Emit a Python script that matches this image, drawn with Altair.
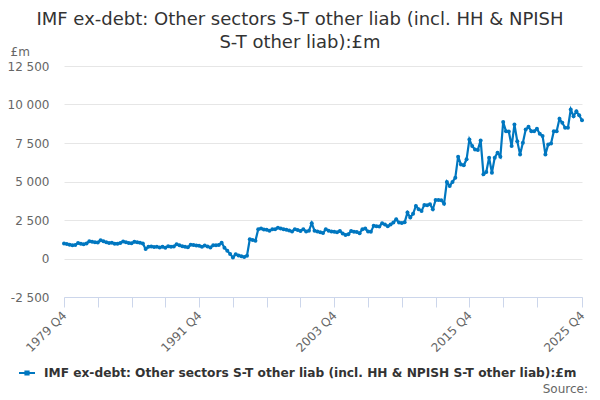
import pandas as pd
import altair as alt

series_name = "IMF ex-debt: Other sectors S-T other liab (incl. HH & NPISH S-T other liab):£m"
title_lines = ["IMF ex-debt: Other sectors S-T other liab (incl. HH & NPISH",
               "S-T other liab):£m"]

# quarterly values, 1979 Q4 .. 2025 Q4 (£m)
values = [
    970, 940, 900, 860, 880, 1000, 950, 920, 980, 1120,
    1080, 1060, 1040, 1180, 1120, 1060, 1000, 1030, 960, 950,
    1000, 1110, 1050, 1000, 990, 1080, 1050, 1020, 980, 620,
    760, 780, 740, 760, 720, 770, 700, 800, 760, 780,
    920, 860, 800, 760, 730, 900, 870, 850, 820, 760,
    840, 780, 720, 860, 860, 880, 1030, 700, 500, 300,
    60, 280, 200, 150, 100, 180, 1250, 1200, 1150, 1900,
    1950, 1880, 1860, 1800, 1900, 1900, 2000, 1940, 1900, 1860,
    1820, 1750, 1900, 1850, 1790, 1900, 1760, 1800, 2290, 1800,
    1750, 1700, 1650, 1900, 1800, 1760, 1730, 1700, 1790, 1620,
    1530, 1580, 1790, 1740, 1720, 1640, 1900, 1940, 1760, 1730,
    2120, 2100, 2070, 2290, 2200, 2100, 2200, 2330, 2550, 2330,
    2300, 2350, 2980, 2660, 2900, 3410, 3200, 3090, 3480, 3450,
    3520, 3200, 3800, 3800, 3780, 3560, 4970, 4710, 4970, 5250,
    6610, 6110, 6050, 6440, 7730, 7300, 7080, 7050, 7670, 5470,
    5620, 6550, 5570, 6550, 6870, 6610, 8860, 8270, 8250, 7300,
    8700, 7620, 6760, 7520, 8380, 8550, 8270, 8270, 8420, 8100,
    7950, 6760, 7410, 7470, 8270, 8270, 9070, 8810, 8490, 8490,
    9670, 9240, 9560, 9300, 8980,
]

quarters = []
for i in range(len(values)):
    n = i + 3
    quarters.append(f"{1979 + n // 4} Q{n % 4 + 1}")

tick_quarters = quarters[0:169:12] + [quarters[-1]]
label_quarters = ["1979 Q4", "1991 Q4", "2003 Q4", "2015 Q4", "2025 Q4"]
y_ticks = [-2500, 0, 2500, 5000, 7500, 10000, 12500]

df = pd.DataFrame({"quarter": quarters, "value": values, "series": series_name})

blue = "#0077c0"
font = "DejaVu Sans"

label_js = "[" + ",".join(f"'{q}'" for q in label_quarters) + "]"

x = alt.X("quarter:O", sort=quarters, title=None,
          scale=alt.Scale(type="point", padding=0),
          axis=alt.Axis(values=tick_quarters,
                        labelExpr=f"indexof({label_js}, datum.value) >= 0 ? datum.value : ''",
                        labelAngle=-45, labelAlign="right", labelBaseline="middle",
                        labelFont=font, labelFontSize=12, labelColor="#666666",
                        labelPadding=6, tickSize=10, tickColor="#ccd6eb",
                        domainColor="#ccd6eb", grid=False))
y = alt.Y("value:Q", title="£m",
          scale=alt.Scale(domain=[-2500, 12500], nice=False, zero=False),
          axis=alt.Axis(values=y_ticks,
                        labelExpr="replace(replace(format(datum.value, ','), regexp(',', 'g'), ' '), '\u2212', '-')",
                        labelFont=font, labelFontSize=12, labelColor="#666666",
                        labelPadding=15, ticks=False, domain=False,
                        gridColor="#e6e6e6",
                        titleAngle=0, titleAlign="left", titleBaseline="bottom",
                        titleX=-54, titleY=-8, titleFont=font, titleFontSize=12,
                        titleFontWeight="normal", titleColor="#666666"))

line = alt.Chart(df).mark_line(strokeWidth=2.2).encode(
    x=x, y=y,
    color=alt.Color("series:N", scale=alt.Scale(domain=[series_name], range=[blue]),
                    legend=alt.Legend(title=None, orient="none", legendX=-46, legendY=298,
                                      symbolType="M-1,0L1,0M-0.2,-0.2L0.2,-0.2L0.2,0.2L-0.2,0.2Z",
                                      symbolSize=256, symbolStrokeWidth=2,
                                      symbolFillColor=blue, symbolStrokeColor=blue,
                                      labelOffset=8,
                                      labelFont=font, labelFontSize=12.2, labelFontWeight="bold",
                                      labelColor="#333333", labelLimit=0)),
)
points = alt.Chart(df).mark_circle(size=16, color=blue, opacity=1).encode(x=x, y=y)

source = alt.Chart(pd.DataFrame({"t": ["Source:"]})).mark_text(
    align="right", baseline="middle", font=font, fontSize=12, color="#666666"
).encode(x=alt.value(524), y=alt.value(323), text="t:N")

chart = (line + points + source).properties(
    width=518, height=231,
    autosize=alt.AutoSizeParams(type="none"),
    padding={"left": 56, "top": 58, "right": 10, "bottom": 100},
    title=alt.TitleParams(text=title_lines, font=font, fontSize=18, fontWeight="normal",
                          color="#333333", anchor="middle", dx=-23, dy=21, offset=14,
                          lineHeight=23),
).configure_view(stroke=None)

chart.save("out.html", embed_options={"renderer": "svg", "actions": False})
